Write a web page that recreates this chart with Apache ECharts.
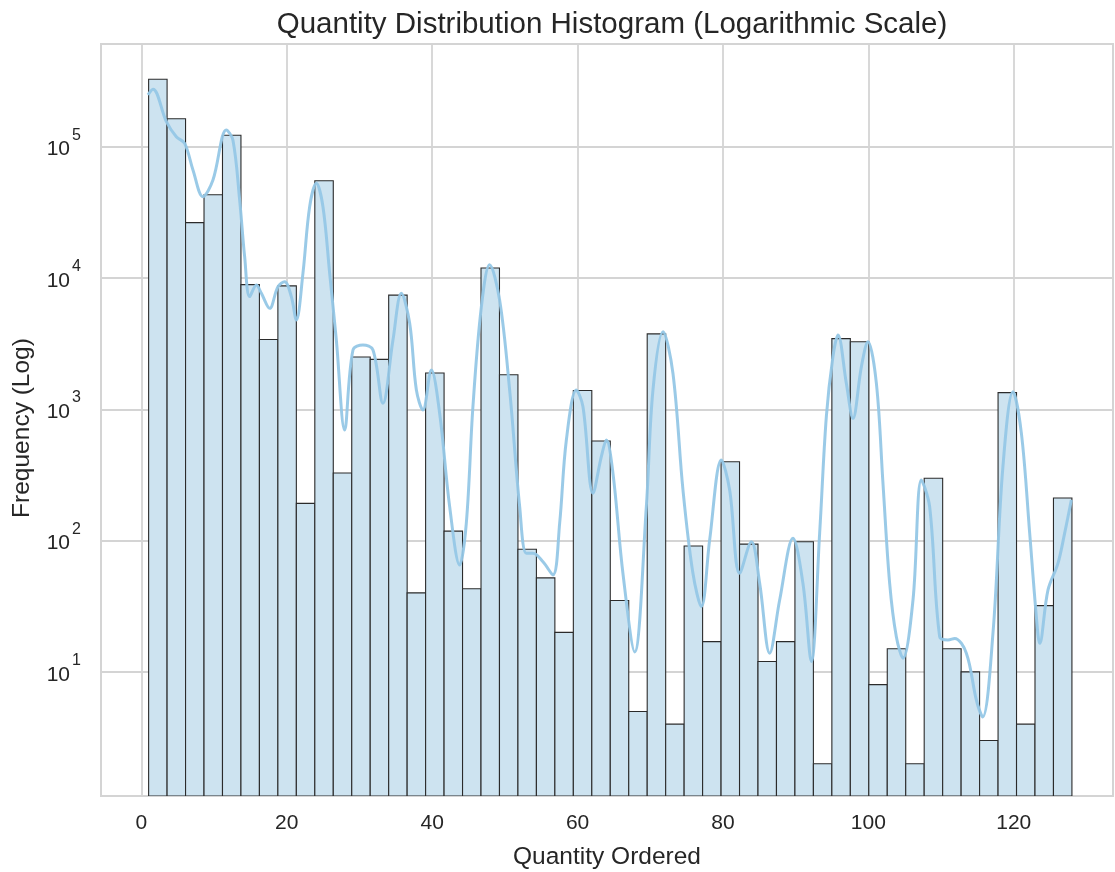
<!DOCTYPE html>
<html><head><meta charset="utf-8">
<script src="https://cdn.jsdelivr.net/npm/echarts@6/dist/echarts.min.js"></script>
<style>html,body{margin:0;padding:0;background:#fff}#c{width:1115px;height:872px}</style>
</head><body><div id="c"></div>
<script>
// ---- data ----
const binLow = 1;
const binHigh = 128;
const counts = [326000, 163000, 26400, 43000, 122000, 8900, 3400, 8700, 192, 55000,
  327, 2500, 2400, 7400, 40, 1890, 118, 43, 11900, 1830,
  86, 52, 20, 1390, 574, 35, 5, 3750, 4, 91,
  17, 399, 94, 12, 17, 98, 2, 3450, 3270, 8,
  15, 2, 298, 15, 10, 3, 1340, 4, 32, 211];
const kdeX = [0.91, 1.60, 3.44, 4.81, 5.96, 7.10, 8.47, 9.85, 11.69, 12.60,
  13.52, 14.21, 14.90, 15.82, 16.51, 17.65, 18.79, 19.71, 20.63, 21.32,
  22.23, 23.15, 24.07, 24.98, 25.90, 26.82, 27.96, 29.11, 30.48, 31.86,
  33.23, 34.61, 35.76, 36.91, 37.83, 38.73, 39.89, 41.03, 42.41, 43.78,
  44.70, 45.61, 46.77, 47.91, 49.28, 50.66, 52.04, 52.96, 53.87, 55.24,
  56.62, 57.54, 58.46, 59.83, 60.74, 62.12, 63.27, 63.96, 64.87, 66.24,
  67.86, 69.46, 70.37, 71.75, 73.12, 74.50, 75.87, 77.03, 78.17, 79.78,
  80.92, 82.30, 83.91, 85.05, 86.43, 87.80, 89.63, 91.00, 92.16, 93.30,
  94.22, 95.13, 95.82, 96.97, 97.88, 99.04, 99.94, 101.10, 102.01, 102.93,
  103.85, 104.76, 106.14, 107.29, 108.43, 109.81, 110.95, 111.87, 113.48, 114.86,
  115.72, 117.14, 118.51, 119.89, 121.05, 122.19, 123.11, 123.57, 124.71, 126.08,
  127.00, 127.92];
const kdeY = [248000, 274000, 155000, 119000, 106000, 66500, 41600, 55700, 134000, 112000,
  39300, 14500, 7210, 8850, 7640, 5870, 8590, 9370, 7210, 4790,
  10900, 34900, 52600, 34900, 10900, 3370, 695, 2830, 3090, 2830,
  1110, 3370, 7640, 4520, 1400, 988, 1990, 933, 181, 65.2,
  136, 1050, 6040, 12600, 6790, 1400, 181, 80, 80, 69,
  54.7, 136, 583, 1400, 1050, 229, 436, 583, 326, 56.4,
  14.2, 181, 1400, 3900, 1880, 243, 56.4, 31.4, 101, 411,
  243, 56.4, 98, 47.3, 13.9, 35.3, 104, 47.3, 12, 114,
  879, 2520, 3680, 1580, 853, 2110, 3270, 1580, 273, 47.3,
  18.5, 12.7, 35.3, 289, 181, 18.5, 17.5, 18.0, 13.9, 6.1,
  4.54, 19.7, 366, 1360, 656, 114, 26.3, 16.5, 42.1, 67.1,
  114, 204];
const xTickLabels = [0, 20, 40, 60, 80, 100, 120];
const yTickPowers = [1, 2, 3, 4, 5];

// ---- layout / style ----
const X_MIN = -5.55, X_MAX = 133.65;
const Y_MIN = 1.135, Y_MAX = 605000;
const TXT = '#262626';
const FONT = "'Liberation Sans', Arial, sans-serif";
const GRIDC = '#d4d4d4';

const nBins = counts.length;
const w = (binHigh - binLow) / nBins;
const barData = counts.map((c, i) => [binLow + i * w, binLow + (i + 1) * w, c]);
const lineData = kdeX.map((x, i) => [x, kdeY[i]]);

const chart = echarts.init(document.getElementById('c'), null, {renderer: 'canvas'});
chart.setOption({
  animation: false,
  backgroundColor: '#fff',
  title: {
    text: 'Quantity Distribution Histogram (Logarithmic Scale)',
    left: 607, top: 5, textAlign: 'center',
    textStyle: {fontFamily: FONT, fontSize: 29.5, fontWeight: 'normal', color: TXT}
  },
  grid: {left: 101, right: 2, top: 44, bottom: 76, show: true, borderColor: GRIDC, borderWidth: 2,
         backgroundColor: 'transparent', containLabel: false, outerBoundsMode: 'none'},
  xAxis: {
    type: 'value', min: X_MIN, max: X_MAX, splitNumber: 7,
    name: 'Quantity Ordered', nameLocation: 'middle', nameGap: 49,
    nameTextStyle: {fontFamily: FONT, fontSize: 24.5, color: TXT},
    axisLine: {show: false}, axisTick: {show: false},
    axisLabel: {
      margin: 17, fontFamily: FONT, fontSize: 21, color: TXT,
      formatter: v => { const r = Math.round(v); return (Math.abs(v - r) < 1e-6 && xTickLabels.includes(r)) ? String(r) : ''; }
    },
    splitLine: {show: true, lineStyle: {color: GRIDC, width: 1.8}}
  },
  yAxis: {
    type: 'log', logBase: 10, min: Y_MIN, max: Y_MAX,
    name: 'Frequency (Log)', nameLocation: 'middle', nameGap: 66, nameRotate: 90,
    nameTextStyle: {fontFamily: FONT, fontSize: 24.5, color: TXT, padding: [0, 16, 0, 0]},
    axisLine: {show: false}, axisTick: {show: false},
    axisLabel: {
      margin: 20, fontFamily: FONT, color: TXT,
      formatter: v => {
        const l = Math.log10(v), n = Math.round(l);
        return (Math.abs(l - n) < 1e-6 && yTickPowers.includes(n)) ? '{s|' + n + '}\n{b|10}{g| }' : '';
      },
      rich: {
        b: {fontFamily: FONT, fontSize: 21, color: TXT, lineHeight: 17, padding: [0, 0, 6, 0]},
        s: {fontFamily: FONT, fontSize: 16, color: TXT, lineHeight: 12, padding: [0, 0, 6, 0]},
        g: {fontFamily: FONT, fontSize: 16, width: 11, lineHeight: 17}
      }
    },
    splitLine: {show: true, lineStyle: {color: GRIDC, width: 1.8}}
  },
  series: [
    {
      type: 'custom', clip: true, z: 2,
      encode: {x: [0, 1], y: 2},
      data: barData,
      renderItem: (params, api) => {
        const p0 = api.coord([api.value(0), api.value(2)]);
        const p1 = api.coord([api.value(1), Y_MIN]);
        return {
          type: 'rect',
          shape: {x: p0[0], y: p0[1], width: p1[0] - p0[0], height: p1[1] - p0[1]},
          style: {fill: '#cde3f0', stroke: '#2b2b2b', lineWidth: 1.1}
        };
      }
    },
    {
      type: 'line', z: 3, data: lineData, smooth: 0.35, showSymbol: false,
      lineStyle: {color: '#95c7e6', width: 3, opacity: 0.95}
    }
  ]
});
</script>
</body></html>
